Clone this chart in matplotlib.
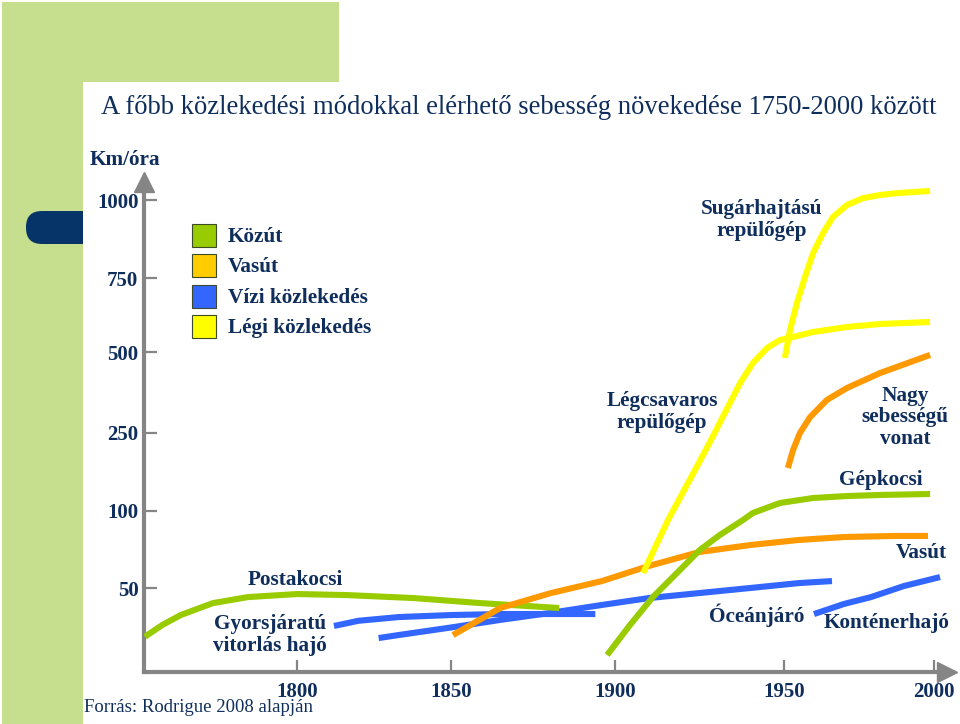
import numpy as np
import matplotlib
matplotlib.use("Agg")
import matplotlib.pyplot as plt
from matplotlib.patches import Rectangle, FancyBboxPatch

plt.rcParams['font.family'] = ['Liberation Serif', 'DejaVu Serif']

# ---- data (year, km/h) ----
coach_years = [1750.3, 1756, 1762, 1772.5, 1784, 1800, 1816, 1838, 1859, 1883]
coach_speed = [21, 28, 33.9, 41, 44.6, 46.4, 45.8, 44, 41, 38.1]

sail_years = [1812, 1820, 1833, 1850, 1865, 1880, 1894]
sail_speed = [27.4, 30.5, 32.7, 33.9, 34.5, 34.5, 34.5]

ocean_years = [1826.5, 1833, 1850, 1865, 1880, 1896, 1910, 1925, 1940, 1955, 1966]
ocean_speed = [20.2, 22, 26.5, 31, 35.1, 39.9, 44, 47, 50, 53.2, 54.5]

container_years = [1960, 1970, 1979, 1990, 2002]
container_speed = [34.5, 40.5, 44.6, 51.3, 57.1]

rail_years = [1850.6, 1865, 1880.5, 1896, 1910, 1925, 1940, 1955, 1970, 1987, 1998]
rail_speed = [22, 38.1, 47, 54.5, 64.3, 73.4, 77.9, 81.2, 83.1, 83.8, 83.8]

hsr_years = [1951.3, 1953, 1955.3, 1958.7, 1964.3, 1971, 1982, 1998.7]
hsr_speed = [182.7, 217, 250, 299, 352, 389, 435, 491]

car_years = [1897.6, 1904.4, 1911.2, 1918.3, 1925.1, 1931, 1937.9, 1940.8, 1948.8,
             1959.7, 1971, 1982, 1998.7]
car_speed = [10.1, 27.9, 44.6, 59.7, 74.7, 84.4, 94.2, 98.7, 115.4, 125, 128.8, 130.8, 132.7]

prop_years = [1908.3, 1915.7, 1925.1, 1929, 1937, 1940.8, 1945, 1948.8, 1953, 1959.7,
              1971, 1982, 1998.7]
prop_speed = [59.7, 94.2, 196, 244, 404, 466, 513.5, 540.5, 550.7, 567.6, 584.5, 594.6, 601.4]

jet_years = [1950.3, 1952, 1954.3, 1957, 1959.7, 1963, 1966.3, 1971, 1976.3, 1982,
             1987.7, 1998.7]
jet_speed = [481.5, 574, 665.5, 753, 830, 894, 945.5, 984, 1006, 1016, 1022, 1029]

x_ticks = [1800, 1850, 1900, 1950, 2000]
y_ticks = [50, 100, 250, 500, 750, 1000]

legend_labels = ['Közút', 'Vasút', 'Vízi közlekedés', 'Légi közlekedés']
legend_colors = ['#99CC00', '#FFCC00', '#3366FF', '#FFFF00']

# ---- irregular axis scales (anchor years/values -> pixel) ----
x_anchor = [1750, 1800, 1850, 1900, 1950, 2000]
x_anchor_px = [144, 297, 451, 615, 784, 934]
y_anchor = [0, 50, 100, 250, 500, 750, 1000]
y_anchor_px = [672, 588, 511, 433, 352, 278, 200]


def pw(v, xp, fp):
    v = np.asarray(v, dtype=float)
    out = np.interp(v, xp, fp)
    lo = (fp[1] - fp[0]) / (xp[1] - xp[0])
    hi = (fp[-1] - fp[-2]) / (xp[-1] - xp[-2])
    out = np.where(v < xp[0], fp[0] + (v - xp[0]) * lo, out)
    out = np.where(v > xp[-1], fp[-1] + (v - xp[-1]) * hi, out)
    return out


yneg = [-p for p in y_anchor_px]
fx = (lambda v: pw(v, x_anchor, x_anchor_px), lambda p: pw(p, x_anchor_px, x_anchor))
fy = (lambda v: pw(v, y_anchor, yneg), lambda p: pw(p, yneg, y_anchor))

navy = '#0F2E5C'
grey = '#858585'
W, H = 960, 724
fs = 15.3

fig = plt.figure(figsize=(9.6, 7.24), dpi=100)

# background decoration in pixel coordinates
bg = fig.add_axes([0, 0, 1, 1])
bg.set_xlim(0, W)
bg.set_ylim(H, 0)
bg.axis('off')
lg = '#C5DF8F'
bg.add_patch(Rectangle((2, 2), 337, 80, color=lg, lw=0))
bg.add_patch(Rectangle((2, 2), 81, H, color=lg, lw=0))
bg.add_patch(FancyBboxPatch((26, 211), 80, 33, boxstyle='round,pad=0,rounding_size=16',
                            color='#073468', lw=0))
bg.add_patch(FancyBboxPatch((83, 82), 1000, 800, boxstyle='round,pad=0,rounding_size=18',
                            color='white', lw=0))

bg.text(101, 108, 'A főbb közlekedési módokkal elérhető sebesség növekedése 1750-2000 között',
        fontsize=19.2, color=navy, va='center', ha='left')
bg.text(125, 160, 'Km/óra', fontsize=fs, fontweight='bold', color=navy, ha='center', va='center')
bg.text(84, 708, 'Forrás: Rodrigue 2008 alapján', fontsize=13.5, color=navy, ha='left', va='center')

for i, (lab, col) in enumerate(zip(legend_labels, legend_colors)):
    y0 = 224 + i * 30.3
    bg.add_patch(Rectangle((192, y0), 24, 23, facecolor=col, edgecolor='#3A4A2A', lw=0.8))
    bg.text(228, y0 + 13, lab, fontsize=fs, fontweight='bold', color=navy, va='center')

# curve labels
labels = [
    (295, 580, 'Postakocsi'),
    (270, 635, 'Gyorsjáratú\nvitorlás hajó'),
    (662, 412, 'Légcsavaros\nrepülőgép'),
    (762, 220, 'Sugárhajtású\nrepülőgép'),
    (905, 417, 'Nagy\nsebességű\nvonat'),
    (881, 480, 'Gépkocsi'),
    (921, 553, 'Vasút'),
    (757, 615, 'Óceánjáró'),
    (887, 623, 'Konténerhajó'),
]
for x, y, t in labels:
    bg.text(x, y, t, fontsize=fs, fontweight='bold', color=navy, ha='center', va='center',
            linespacing=1.1, zorder=10)

# ---- main chart ----
left_px, right_px, bottom_px, top_px = 144, 947, 672, 182
ax = fig.add_axes([left_px / W, 1 - bottom_px / H, (right_px - left_px) / W,
                   (bottom_px - top_px) / H])
ax.patch.set_alpha(0)
ax.set_xscale('function', functions=fx)
ax.set_yscale('function', functions=fy)
ax.set_xlim(1750, float(fx[1](right_px)))
ax.set_ylim(0, float(fy[1](-top_px)))

lw = 4.4
kw = dict(lw=lw, solid_capstyle='butt', solid_joinstyle='round')
ax.plot(sail_years, sail_speed, color='#3366FF', zorder=2, **kw)
ax.plot(ocean_years, ocean_speed, color='#3366FF', zorder=2, **kw)
ax.plot(container_years, container_speed, color='#3366FF', zorder=2, **kw)
ax.plot(coach_years, coach_speed, color='#99CC00', zorder=3, **kw)
ax.plot(rail_years, rail_speed, color='#FF9900', zorder=4, **kw)
ax.plot(hsr_years, hsr_speed, color='#FF9900', zorder=4, **kw)
ax.plot(car_years, car_speed, color='#99CC00', zorder=5, **kw)
ax.plot(prop_years, prop_speed, color='#FFFF00', zorder=6, **kw)
ax.plot(jet_years, jet_speed, color='#FFFF00', zorder=6, **kw)

for s in ['top', 'right']:
    ax.spines[s].set_visible(False)
for s in ['left', 'bottom']:
    ax.spines[s].set_color(grey)
    ax.spines[s].set_linewidth(3)
ax.plot(1, 0, marker='>', ms=14, color=grey, transform=ax.transAxes, clip_on=False)
ax.plot(0, 1, marker='^', ms=14, color=grey, transform=ax.transAxes, clip_on=False)

ax.set_xticks(x_ticks)
ax.set_yticks(y_ticks)
ax.set_xticklabels([str(v) for v in x_ticks])
ax.set_yticklabels([str(v) for v in y_ticks])
ax.minorticks_off()
ax.tick_params(direction='in', length=9, width=1.6, color=grey, labelsize=15,
               labelcolor=navy)
ax.tick_params(axis='y', pad=4)
ax.tick_params(axis='x', pad=7)
for lab in ax.get_xticklabels() + ax.get_yticklabels():
    lab.set_fontweight('bold')

fig.savefig('out.png', dpi=100)
